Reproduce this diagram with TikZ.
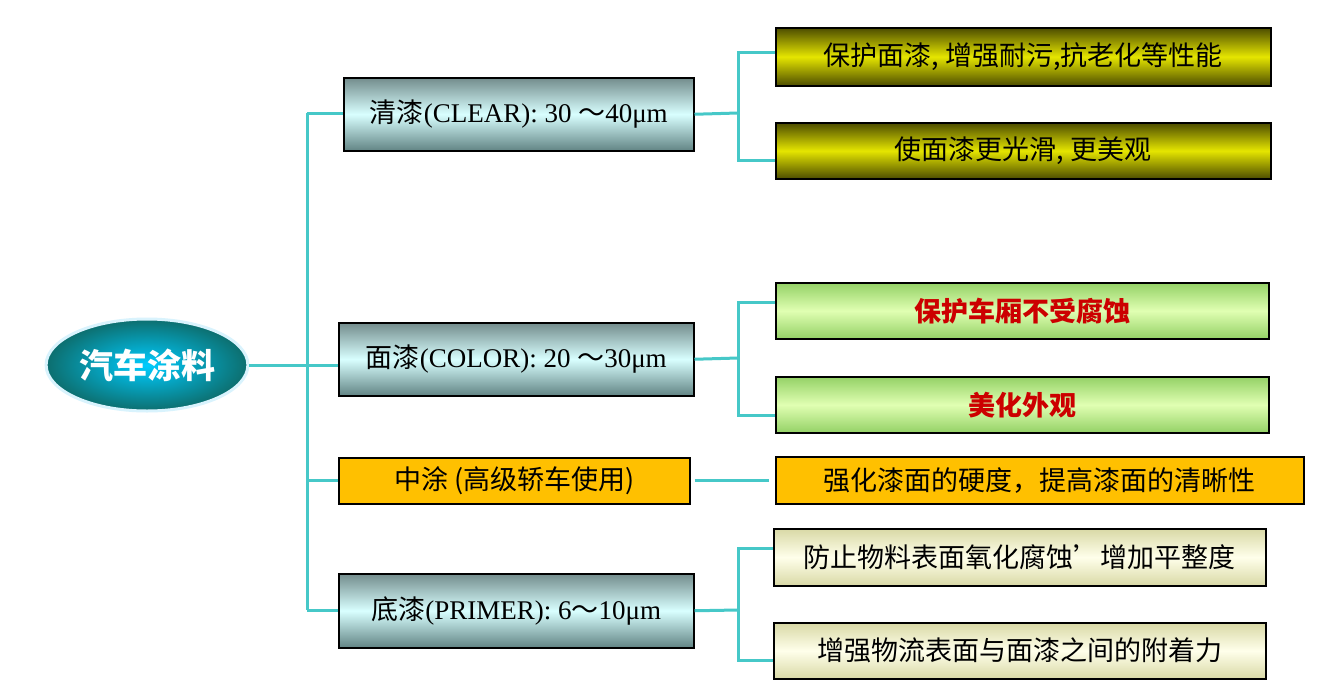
\documentclass[tikz,border=0pt]{standalone}
\usetikzlibrary{shapes.geometric}
\usepackage{fontspec}
\setmainfont{Liberation Serif}
\newfontfamily\cjk{Noto Sans CJK SC}
\definecolor{lkc}{RGB}{70,200,200}
\definecolor{goldc}{RGB}{255,192,0}
\begin{document}
\begin{tikzpicture}[x=1pt,y=-1pt,
  lk/.style={draw=lkc,line width=3pt},
  base/.style={draw=black,line width=1.5pt,inner sep=0pt,anchor=north west,font=\fontsize{27}{30}\selectfont},
  cyanbox/.style={base,top color=cyan!10!gray,bottom color=cyan!15!gray!90!black,middle color=cyan!15},
  olive/.style={base,top color=olive!60!black,bottom color=olive!60!black,middle color=yellow!80!olive,font=\cjk\fontsize{27}{30}\selectfont},
  greenb/.style={base,top color=green!40!olive!60,bottom color=green!40!olive!60,middle color=green!20!lime!30,font=\cjk\bfseries\fontsize{27}{30}\selectfont,text=red!80!black},
  beige/.style={base,top color=gray!60!yellow!50,bottom color=gray!60!yellow!50,middle color=yellow!8,font=\cjk\fontsize{27}{30}\selectfont},
  gold/.style={base,fill=goldc,font=\cjk\fontsize{27}{30}\selectfont}]
\useasboundingbox (0,0) rectangle (1317,691);
\fill[white] (0,0) rectangle (1317,691);
% center
\node[ellipse,minimum width=200pt,minimum height=92pt,draw=cyan!15,line width=3pt,inner color=cyan!80!blue,outer color=cyan!40!black!95,text=white,font=\cjk\bfseries\fontsize{34}{38}\selectfont] (c) at (147,365) {汽车涂料};
% left boxes
\node[cyanbox,minimum width=350pt,minimum height=73pt] (a) at (343,77) {};
\node at (a.center) [font=\fontsize{27}{30}\selectfont] {{\cjk 清漆}(CLEAR): 30 {\cjk ～}40μm};
\node[cyanbox,minimum width=355pt,minimum height=73pt] (b) at (338,322) {};
\node at (b.center) [font=\fontsize{27}{30}\selectfont] {{\cjk 面漆}(COLOR): 20 {\cjk ～}30μm};
\node[gold,minimum width=351pt,minimum height=46pt] (m) at (338,457) {中涂 (高级轿车使用)};
\node[cyanbox,minimum width=355pt,minimum height=74pt] (d) at (338,573) {};
\node at (d.center) [font=\fontsize{27}{30}\selectfont] {{\cjk 底漆}(PRIMER): 6{\cjk ～}10μm};
% right boxes
\node[olive,minimum width=495pt,minimum height=58pt] (a1) at (775,27) {保护面漆, 增强耐污,抗老化等性能};
\node[olive,minimum width=495pt,minimum height=56pt] (a2) at (775,122) {使面漆更光滑, 更美观};
\node[greenb,minimum width=493pt,minimum height=56pt] (b1) at (775,282) {保护车厢不受腐蚀};
\node[greenb,minimum width=493pt,minimum height=56pt] (b2) at (775,376) {美化外观};
\node[gold,minimum width=528pt,minimum height=47pt] (m1) at (775,456) {强化漆面的硬度，提高漆面的清晰性};
\node[beige,minimum width=492pt,minimum height=57pt] (d1) at (773,528) {防止物料表面氧化腐蚀’增加平整度};
\node[beige,minimum width=492pt,minimum height=56pt] (d2) at (773,622) {增强物流表面与面漆之间的附着力};
% trunk
\coordinate (t1) at (307,113);
\coordinate (t4) at (307,610);
\draw[lk] (t1)--(t4);
\draw[lk] (c.east)--(b.west |- c.east);
\draw[lk] (t1)--(a.west |- t1);
\draw[lk] (307,480)--(m.west |- 307,480);
\draw[lk] (t4)--(d.west |- t4);
% brackets
\draw[lk] (a.east)--(738,113);
\draw[lk] (775,52)--(738,52)--(738,160)--(775,160);
\draw[lk] (b.east)--(738,358);
\draw[lk] (775,302)--(738,302)--(738,415)--(775,415);
\draw[lk] ([xshift=4pt]m.east)--([xshift=-6pt]m1.west |- m.east);
\draw[lk] (d.east)--(738,610);
\draw[lk] (773,548)--(738,548)--(738,660)--(773,660);
\end{tikzpicture}
\end{document}
